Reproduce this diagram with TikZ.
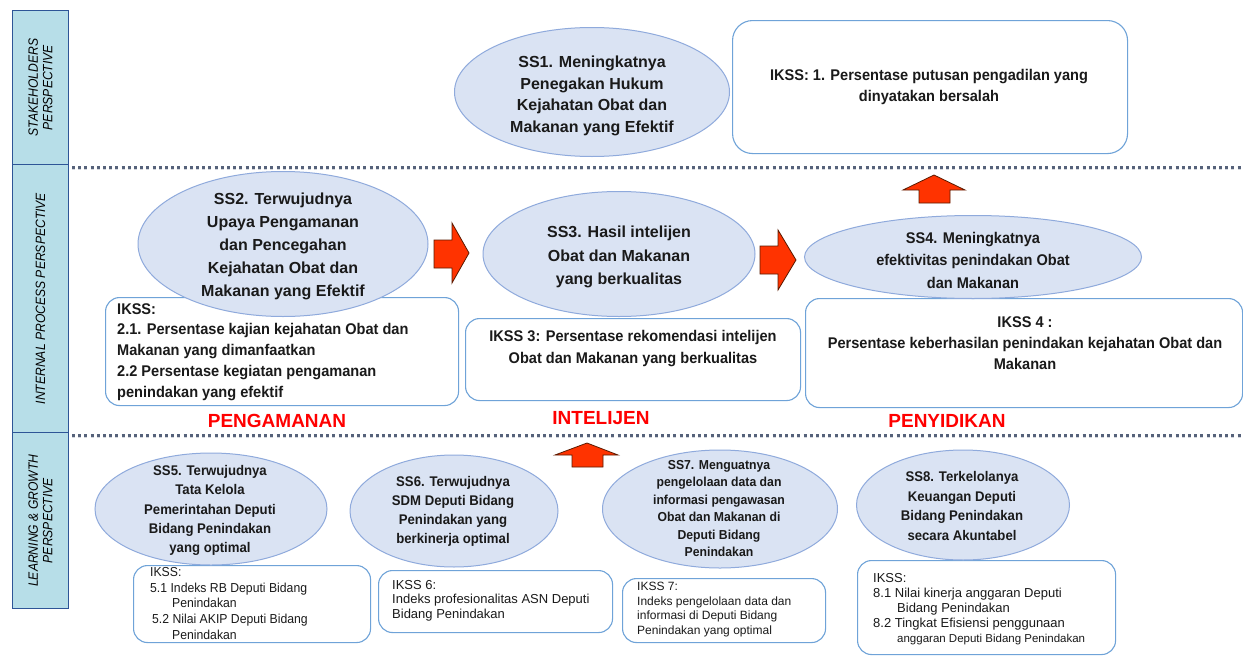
\documentclass[tikz,border=0pt]{standalone}
\usepackage{fontspec}
\setmainfont{Liberation Sans}
\newfontfamily\fA{Liberation Sans}[FakeStretch=0.94]
\newfontfamily\fB{Liberation Sans}[FakeStretch=0.9]
\usetikzlibrary{shapes.geometric}
\definecolor{ellfill}{HTML}{DAE3F3}
\definecolor{elldraw}{HTML}{8FAADC}
\definecolor{boxdraw}{HTML}{6FA3D8}
\definecolor{arrfill}{HTML}{FF3300}
\definecolor{arrdraw}{HTML}{5A1A00}
\definecolor{sidefill}{HTML}{B7DEE8}
\definecolor{sidedraw}{HTML}{2E5597}
\definecolor{dotc}{HTML}{56627A}
\definecolor{txt}{HTML}{1A1A1A}
\definecolor{lab}{HTML}{FF0000}
\begin{document}
\begin{tikzpicture}[x=1pt,y=-1pt,
 ss/.style={ellipse, fill=ellfill, draw=elldraw, line width=1pt, inner sep=0pt},
 ikbox/.style={draw=boxdraw, line width=1.1pt, rounded corners=14pt, fill=white, anchor=north west, inner sep=0pt},
 sidebox/.style={draw=sidedraw, fill=sidefill, line width=1.2pt, anchor=north west, inner sep=0pt, minimum width=56pt},
 sidet/.style={rotate=90, align=center, inner sep=0pt, text=black, font=\fB\itshape\fontsize{13.5}{14.5}\selectfont},
 sst/.style={inner sep=0pt, align=center, text=txt, font=\bfseries\fontsize{16}{21.7}\selectfont},
 sbt/.style={inner sep=0pt, align=center, text=txt, font=\fA\bfseries\fontsize{14}{19.3}\selectfont},
 ikt/.style={inner sep=0pt, text=txt, font=\fA\bfseries\fontsize{15.5}{21.5}\selectfont},
 ikr/.style={inner sep=0pt, align=left, anchor=west, text=txt, font=\fontsize{13}{15.5}\selectfont},
 labt/.style={inner sep=0pt, text=lab, font=\bfseries\fontsize{19}{22}\selectfont},
 arrowst/.style={fill=arrfill, draw=arrdraw, line width=0.8pt, line join=miter},
 dotline/.style={dotc, line width=3pt, dash pattern=on 3pt off 3.2pt}
]
\useasboundingbox (0,0) rectangle (1243,656);
\fill[white] (0,0) rectangle (1243,656);

% sidebar
\node[sidebox, minimum height=154pt] (side1) at (12,10) {};
\node[sidebox, minimum height=268pt] (side2) at (12,164) {};
\node[sidebox, minimum height=176pt] (side3) at (12,432) {};
\node[sidet] (sidet1) at (side1.center) {STAKEHOLDERS\\PERSPECTIVE};
\node[sidet] (sidet2) at (side2.center) {INTERNAL PROCESS PERSPECTIVE};
\node[sidet] (sidet3) at (side3.center) {LEARNING \& GROWTH\\PERSPECTIVE};

% dotted dividers
\coordinate (d1a) at (72,167); \coordinate (d1b) at (1243,167);
\coordinate (d2a) at (72,435); \coordinate (d2b) at (1243,435);
\draw[dotline, opacity=0.25] ([yshift=-1.5pt]d1a) -- ([yshift=-1.5pt]d1b);
\draw[dotline, opacity=0.25] ([yshift=-1.5pt]d2a) -- ([yshift=-1.5pt]d2b);
\draw[dotline] (d1a) -- (d1b);
\draw[dotline] (d2a) -- (d2b);

% IKSS boxes
\node[ikbox, rounded corners=20pt, minimum width=395pt, minimum height=133pt] (ik1) at (732,20) {};
\node[ikbox, minimum width=353pt, minimum height=108pt] (ik2) at (105,297) {};
\node[ikbox, minimum width=335pt, minimum height=82pt] (ik3) at (465,318) {};
\node[ikbox, minimum width=437pt, minimum height=109pt] (ik4) at (805,298) {};
\node[ikbox, minimum width=237pt, minimum height=77pt] (ik5) at (133,565) {};
\node[ikbox, minimum width=234pt, minimum height=62pt] (ik6) at (378,570) {};
\node[ikbox, minimum width=203pt, minimum height=64pt] (ik7) at (622,578) {};
\node[ikbox, minimum width=258pt, minimum height=94pt] (ik8) at (857,560) {};

% ellipses
\node[ss, minimum width=275pt, minimum height=129pt] (ss1) at (592,92) {};
\node[ss, minimum width=290pt, minimum height=145pt] (ss2) at (283,244) {};
\node[ss, minimum width=272pt, minimum height=125pt] (ss3) at (619,254) {};
\node[ss, minimum width=337pt, minimum height=83pt] (ss4) at (973,257) {};
\node[ss, minimum width=232pt, minimum height=112pt] (ss5) at (211,509) {};
\node[ss, minimum width=208pt, minimum height=112pt] (ss6) at (454,511) {};
\node[ss, minimum width=235pt, minimum height=118pt] (ss7) at (720,509) {};
\node[ss, minimum width=213pt, minimum height=110pt] (ss8) at (963,505) {};

% ellipse texts
\node[sst] (ss1t) at (592,96) {SS1. Meningkatnya\\Penegakan Hukum\\Kejahatan Obat dan\\Makanan yang Efektif};
\node[sst, font=\bfseries\fontsize{16}{23}\selectfont] (ss2t) at (283,246) {SS2. Terwujudnya\\Upaya Pengamanan\\dan Pencegahan\\Kejahatan Obat dan\\Makanan yang Efektif};
\node[sst, font=\bfseries\fontsize{16}{23.5}\selectfont] (ss3t) at (619,257) {SS3. Hasil intelijen\\Obat dan Makanan\\yang berkualitas};
\node[sst, font=\fA\bfseries\fontsize{15.5}{22.5}\selectfont] (ss4t) at (973,260) {SS4. Meningkatnya\\efektivitas penindakan Obat\\dan Makanan};
\node[sbt] (ss5t) at (210,510.5) {SS5. Terwujudnya\\Tata Kelola\\Pemerintahan Deputi\\Bidang Penindakan\\yang optimal};
\node[sbt, font=\fA\bfseries\fontsize{14}{19}\selectfont] (ss6t) at (453,511.5) {SS6. Terwujudnya\\SDM Deputi Bidang\\Penindakan yang\\berkinerja optimal};
\node[sbt, font=\fA\bfseries\fontsize{13}{17.4}\selectfont] (ss7t) at (719,508.5) {SS7. Menguatnya\\pengelolaan data dan\\informasi pengawasan\\Obat dan Makanan di\\Deputi Bidang\\Penindakan};
\node[sbt, font=\fA\bfseries\fontsize{14}{19.5}\selectfont] (ss8t) at (962,506) {SS8. Terkelolanya\\Keuangan Deputi\\Bidang Penindakan\\secara Akuntabel};

% IKSS texts
\node[ikt, align=center] (ik1t) at (929,87) {IKSS: 1. Persentase putusan pengadilan yang\\dinyatakan bersalah};
\node[ikt, align=left, anchor=west, font=\fA\bfseries\fontsize{15.5}{20.8}\selectfont] (ik2t) at (117,352) {IKSS:\\2.1. Persentase kajian kejahatan Obat dan\\Makanan yang dimanfaatkan\\2.2 Persentase kegiatan pengamanan\\penindakan yang efektif};
\node[ikt, align=center] (ik3t) at (633,348.5) {IKSS 3: Persentase rekomendasi intelijen\\Obat dan Makanan yang berkualitas};
\node[ikt, align=center, font=\fA\bfseries\fontsize{15.5}{21}\selectfont] (ik4t) at (1025,343) {IKSS 4 :\\Persentase keberhasilan penindakan kejahatan Obat dan\\Makanan};
\node[ikr, font=\fA\fontsize{13}{15.7}\selectfont] (ik5t) at (150,603.5) {IKSS:\\5.1 Indeks RB Deputi Bidang\\\hspace*{22pt}Penindakan\\\hspace*{2pt}5.2 Nilai AKIP Deputi Bidang\\\hspace*{22pt}Penindakan};
\node[ikr, font=\fontsize{13}{14.5}\selectfont] (ik6t) at (392,600.5) {IKSS 6:\\Indeks profesionalitas ASN Deputi\\Bidang Penindakan};
\node[ikr, font=\fontsize{12}{14.5}\selectfont] (ik7t) at (637,609.5) {IKSS 7:\\Indeks pengelolaan data dan\\informasi di Deputi Bidang\\Penindakan yang optimal};
\node[ikr, font=\fontsize{13}{15}\selectfont] (ik8t) at (873,609) {IKSS:\\8.1 Nilai kinerja anggaran Deputi\\\hspace*{24pt}Bidang Penindakan\\8.2 Tingkat Efisiensi penggunaan\\\hspace*{24pt}{\fontsize{11.5}{15}\selectfont anggaran Deputi Bidang Penindakan}};

% red labels
\node[labt] (lab1) at (277,421) {PENGAMANAN};
\node[labt] (lab2) at (601,418) {INTELIJEN};
\node[labt] (lab3) at (947,421) {PENYIDIKAN};

% block arrows
\path[arrowst] (434,240) -- (452,240) -- (452,223) -- (469,253) -- (452,283) -- (452,268) -- (434,268) -- cycle;
\path[arrowst] (760,246) -- (778,246) -- (778,230) -- (796,260) -- (778,290) -- (778,274) -- (760,274) -- cycle;
\path[arrowst] (919,203) -- (919,190) -- (903,190) -- (934,175) -- (965,190) -- (950,190) -- (950,203) -- cycle;
\path[arrowst] (572,467) -- (572,455) -- (555,455) -- (587,443) -- (618,455) -- (603,455) -- (603,467) -- cycle;
\end{tikzpicture}
\end{document}
